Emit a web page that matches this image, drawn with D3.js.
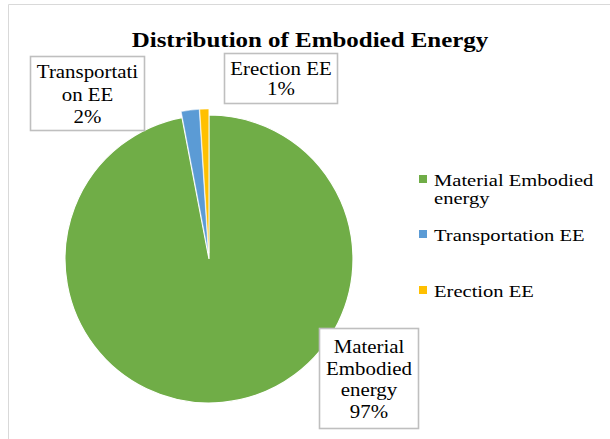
<!DOCTYPE html>
<html>
<head>
<meta charset="utf-8">
<script src="https://cdn.jsdelivr.net/npm/d3@7"></script>
<style>
  html, body { margin: 0; padding: 0; background: #fff; }
  svg { display: block; }
</style>
</head>
<body>
<svg id="chart" width="610" height="439"></svg>
<script>
// Embodied energy shares, in percent
const categories = ["Material Embodied energy", "Transportation EE", "Erection EE"];
const shares = [97, 2, 1];
const colors = ["#70AD47", "#5B9BD5", "#FFC000"];
// data-label lines for each slice
const labelLines = [
  ["Material", "Embodied", "energy", "97%"],
  ["Transportati", "on EE", "2%"],
  ["Erection EE", "1%"]
];
// legend text lines
const legendLines = [["Material Embodied", "energy"], ["Transportation EE"], ["Erection EE"]];

const FONT = "'Liberation Serif', Tinos, 'Times New Roman', 'DejaVu Serif', serif";
const SX = 1.16; // glyphs are set slightly wide
const svg = d3.select("#chart").attr("font-family", FONT);
const W = 610, H = 439;

function addText(parent, x, y, str, size, anchor, weight, sx) {
  return parent.append("text")
    .attr("transform", `translate(${x},${y}) scale(${sx || SX},1)`)
    .attr("text-anchor", anchor || "start")
    .attr("font-family", FONT)
    .attr("font-size", size)
    .attr("font-weight", weight || "normal")
    .attr("fill", "#000")
    .text(str);
}

// chart area outline (open to the right and bottom)
svg.append("path")
  .attr("d", `M8.5,${H} V4.5 H${W}`)
  .attr("fill", "none").attr("stroke", "#d9d9d9").attr("stroke-width", 1);

// title
addText(svg, 310, 47, "Distribution of Embodied Energy", 21.5, "middle", "bold");

// pie
const cx = 209, cy = 259, R = 144;
const pie = d3.pie().sort(null).value(d => d).startAngle(0).endAngle(2 * Math.PI);
const arcs = pie(shares);
const arc = d3.arc().innerRadius(0).outerRadius(R);
const explode = [0, 6, 6];

const g = svg.append("g").attr("transform", `translate(${cx},${cy})`);
g.selectAll("path.slice")
  .data(arcs)
  .join("path")
  .attr("class", "slice")
  .attr("d", arc)
  .attr("fill", (d, i) => colors[i])
  .attr("stroke", "#fff")
  .attr("stroke-width", (d, i) => i === 0 ? 1.2 : 0.5)
  .attr("transform", (d, i) => {
    const a = (d.startAngle + d.endAngle) / 2;
    return `translate(${explode[i] * Math.sin(a)},${-explode[i] * Math.cos(a)})`;
  });

// data label boxes: frame, first baseline and line step
const labelBoxes = [
  { x: 319, y: 328, w: 99, h: 100, base: 353, step: 21.7 },
  { x: 30, y: 56, w: 114, h: 74, base: 78, step: 22.5 },
  { x: 224, y: 53, w: 113, h: 50, base: 75, step: 20 }
];
labelBoxes.forEach((b, i) => {
  const lg = svg.append("g");
  lg.append("rect")
    .attr("x", b.x + 0.5).attr("y", b.y + 0.5)
    .attr("width", b.w).attr("height", b.h)
    .attr("fill", "#fff").attr("stroke", "#bfbfbf").attr("stroke-width", 1.6);
  labelLines[i].forEach((t, j) => {
    addText(lg, b.x + b.w / 2 + 0.5, b.base + j * b.step, t, 18, "middle");
  });
});

// legend
const legendY = [186, 241, 297];
const legend = svg.append("g");
categories.forEach((c, i) => {
  legend.append("rect")
    .attr("x", 419).attr("y", legendY[i] - 11)
    .attr("width", 8).attr("height", 8)
    .attr("fill", colors[i]);
  legendLines[i].forEach((t, j) => {
    addText(legend, 434, legendY[i] + j * 18, t, 17, "start", "normal", 1.21);
  });
});
</script>
</body>
</html>
